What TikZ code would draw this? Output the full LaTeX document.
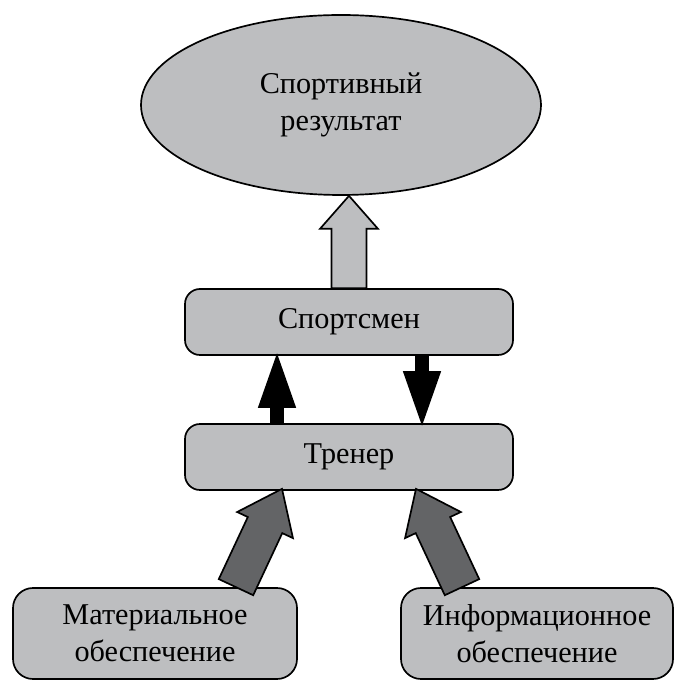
\documentclass[tikz,border=0pt]{standalone}
\usepackage{fontspec}
\setmainfont{Liberation Serif}
\usepackage{tikz}
\usetikzlibrary{shapes.geometric,calc}

\definecolor{boxgray}{RGB}{189,190,192}
\definecolor{darkgray}{RGB}{99,100,102}

% fat outlined arrow: style, tail, tip, half shaft, half head, head length
\newcommand{\fatarrow}[6]{%
  \coordinate (hb) at ($(#3)!#6!(#2)$);
  \draw[#1] ($(#2)!#4!90:(#3)$) -- ($(hb)!#4!90:(#3)$) -- ($(hb)!#5!90:(#3)$)
    -- (#3) -- ($(hb)!#5!-90:(#3)$) -- ($(hb)!#4!-90:(#3)$)
    -- ($(#2)!#4!-90:(#3)$) -- cycle;
}

\begin{document}
\begin{tikzpicture}[
            font = \fontsize{21.5}{26.5}\selectfont, % text size
            line width = 1.2pt % outline
        ]

        \tikzstyle{block}=[
            rectangle,
            draw = black,
            fill = boxgray,
            rounded corners = 0.375cm,
            align = center
        ]
        \tikzstyle{arrowline}=[
            draw = black,
            line join = miter
        ]

\useasboundingbox (0,0) rectangle (16.9,17);

\node[shape=ellipse,draw=black,fill=boxgray,minimum width=10cm,minimum height=4.5cm,align=center] (res) at (8.525,14.375) {Спортивный\\результат};
\node[block,minimum width=8.2cm,minimum height=1.65cm] (sport) at (8.725,8.95) {Спортсмен};
\node[block,minimum width=8.2cm,minimum height=1.65cm] (trener) at (8.725,5.575) {Тренер};
\node[block,rounded corners=0.5cm,minimum width=7.1cm,minimum height=2.275cm] (mat) at (3.875,1.1625) {Материальное\\обеспечение};
\node[block,rounded corners=0.5cm,minimum width=6.8cm,minimum height=2.275cm] (inf) at (13.425,1.1625) {Информационное\\обеспечение};

% sportsman -> result
\coordinate (restip) at (sport.north |- res.south);
\fatarrow{arrowline,fill=boxgray}{sport.north}{restip}{0.4375cm}{0.725cm}{0.825cm}

% coach <-> sportsman
\coordinate (upend) at ([xshift=-1.8cm]trener.north |- sport.south);
\coordinate (downend) at ([xshift=1.825cm]sport.south |- trener.north);
\fatarrow{arrowline,fill=black}{[xshift=-1.8cm]trener.north}{upend}{0.15cm}{0.45cm}{1.28cm}
\fatarrow{arrowline,fill=black}{[xshift=1.825cm]sport.south}{downend}{0.15cm}{0.45cm}{1.28cm}

% support -> coach
\fatarrow{arrowline,fill=darkgray}{[xshift=2.025cm]mat.north}{[xshift=-1.675cm,yshift=0.05cm]trener.south}{0.475cm}{0.77cm}{1.0cm}
\fatarrow{arrowline,fill=darkgray}{[xshift=-1.875cm]inf.north}{[xshift=1.675cm,yshift=0.05cm]trener.south}{0.475cm}{0.77cm}{1.0cm}
\end{tikzpicture}
\end{document}
